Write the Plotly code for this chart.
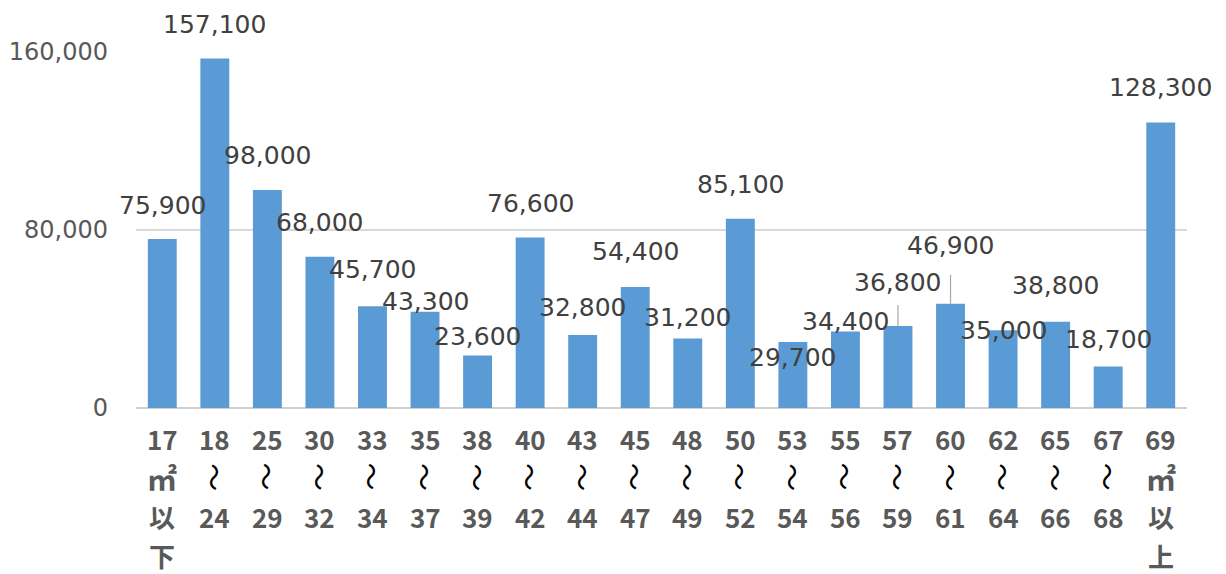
import plotly.graph_objects as go

# Floor-area bands (㎡) and counts
categories = ["17㎡以下", "18～24", "25～29", "30～32", "33～34", "35～37", "38～39",
              "40～42", "43～44", "45～47", "48～49", "50～52", "53～54", "55～56",
              "57～59", "60～61", "62～64", "65～66", "67～68", "69㎡以上"]
tick_rows = [["17", "㎡", "以", "下"], ["18", "～", "24"], ["25", "～", "29"],
             ["30", "～", "32"], ["33", "～", "34"], ["35", "～", "37"],
             ["38", "～", "39"], ["40", "～", "42"], ["43", "～", "44"],
             ["45", "～", "47"], ["48", "～", "49"], ["50", "～", "52"],
             ["53", "～", "54"], ["55", "～", "56"], ["57", "～", "59"],
             ["60", "～", "61"], ["62", "～", "64"], ["65", "～", "66"],
             ["67", "～", "68"], ["69", "㎡", "以", "上"]]
values = [75900, 157100, 98000, 68000, 45700, 43300, 23600, 76600, 32800, 54400,
          31200, 85100, 29700, 34400, 36800, 46900, 35000, 38800, 18700, 128300]
y_ticks = [0, 80000, 160000]

# Pixel offset of each data label above the bar end (negative = below)
label_offsets = [34, 34, 34, 34, 37, 10, 19, 34, 28, 35,
                 21, 34, -16, 10, 44, 58, 0, 36, 27, 35]
# Labels that are pulled away from their bar get a leader line
leader_gap = {14: 7, 15: 13}

BAR = "#5B9BD5"
NUM_FONT = "DejaVu Sans"
CJK_FONT = "Noto Sans CJK JP"

fig = go.Figure(go.Bar(x=categories, y=values, marker=dict(color=BAR, line=dict(width=0)),
                       hoverinfo="skip"))

annotations = []
for i, (c, v) in enumerate(zip(categories, values)):
    text = f"{v:,}"
    font = dict(family=NUM_FONT, size=25, color="#404040")
    if i in leader_gap:
        annotations.append(dict(
            x=c, y=v, xref="x", yref="y", text=text, showarrow=True,
            ax=0, ay=-label_offsets[i], axref="pixel", ayref="pixel",
            arrowhead=0, arrowwidth=1.2, arrowcolor="#a6a6a6",
            startstandoff=leader_gap[i], standoff=0,
            xanchor="center", yanchor="middle", font=font))
    else:
        annotations.append(dict(
            x=c, y=v, xref="x", yref="y", text=text, showarrow=False,
            yshift=label_offsets[i], xanchor="center", yanchor="middle", font=font))

# Vertically stacked category labels
row_pitch = 39
for c, rows in zip(categories, tick_rows):
    for r, t in enumerate(rows):
        is_wave = t == "～"
        size = 28 if is_wave else (30 if t == "㎡" else 26)
        annotations.append(dict(
            x=c, y=0, xref="x", yref="paper", text=t, showarrow=False,
            xanchor="center", yanchor="middle", yshift=-(30 + row_pitch * r),
            textangle=90 if is_wave else 0,
            font=dict(family=CJK_FONT, size=size,
                      color="#000000" if is_wave else "#595959",
                      weight="normal" if is_wave else "bold")))

fig.update_layout(
    width=1226, height=574,
    margin=dict(l=136, r=39, t=52, b=166),
    paper_bgcolor="white", plot_bgcolor="white",
    bargap=0.45, showlegend=False,
    annotations=annotations,
    xaxis=dict(range=[-0.5, len(categories) - 0.5], showticklabels=False,
               showgrid=False, zeroline=False, showline=False, ticks=""),
    yaxis=dict(range=[0, 160000], tickvals=y_ticks, tickformat=",", automargin=False,
               showgrid=True, gridcolor="#d9d9d9", gridwidth=1.5,
               zeroline=True, zerolinecolor="#d0d0d0", zerolinewidth=2,
               showline=False, ticks="", ticklabelstandoff=27,
               tickfont=dict(family=NUM_FONT, size=24, color="#595959")),
)

fig.write_html("out.html")
